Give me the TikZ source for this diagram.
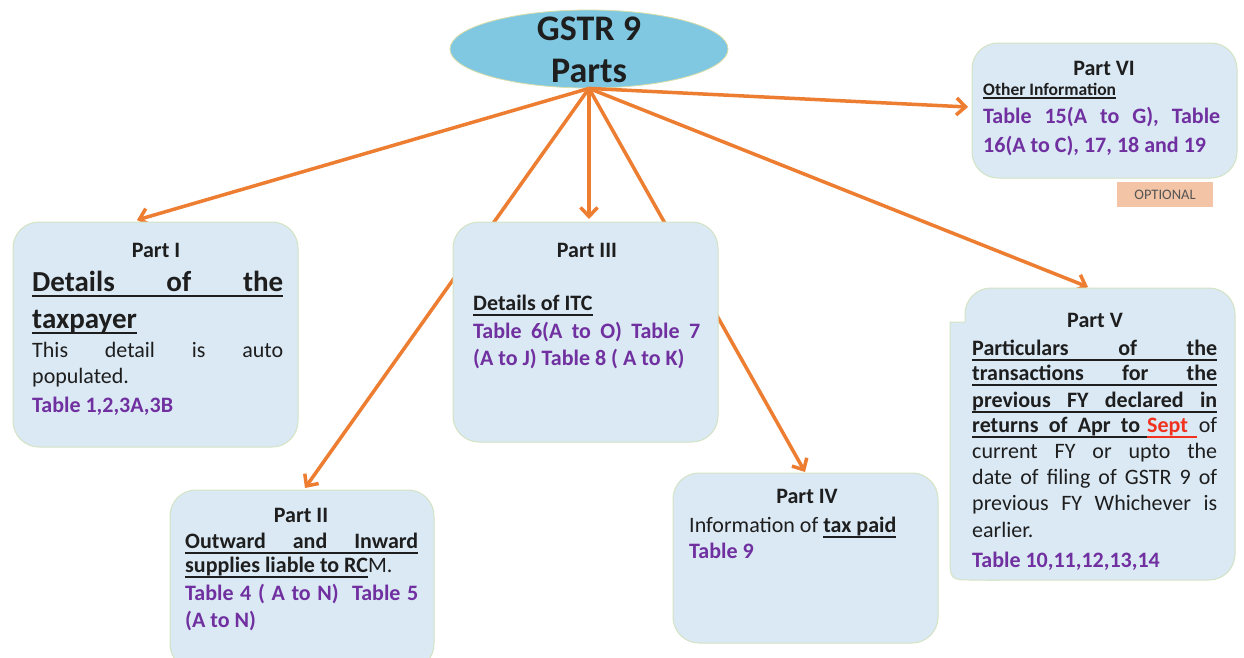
\documentclass[tikz,border=0pt]{standalone}
\usepackage{fontspec}
\setmainfont{Carlito}
\usetikzlibrary{arrows.meta,shapes.geometric}
\definecolor{arrowor}{HTML}{ED7D31}
\definecolor{boxfill}{HTML}{DAE9F4}
\definecolor{boxedge}{HTML}{D3E3C4}
\definecolor{ellfill}{HTML}{80C8E2}
\definecolor{elledge}{HTML}{D9DDA8}
\definecolor{tblpurple}{HTML}{7030A0}
\definecolor{septred}{HTML}{F0321E}
\definecolor{optfill}{HTML}{F3C4A6}
\definecolor{optgray}{HTML}{555555}
\definecolor{txt}{HTML}{1E1E1E}
\newsavebox\ulbox
\newcommand\ulx[2][5.5pt]{\sbox\ulbox{#2}\rlap{\rule[-#1]{\wd\ulbox}{1.7pt}}\usebox\ulbox}
\newcommand\sz[2]{\fontsize{#1}{#2}\selectfont}
\begin{document}
\begin{tikzpicture}[x=1pt,y=-1pt,
  box/.style={draw=boxedge, line width=1pt, fill=boxfill, rounded corners=26pt, inner sep=0pt},
  arr/.style={draw=arrowor, line width=3.5pt, -{Straight Barb[length=9pt,width=17pt]}},
  ln/.style={anchor=base west, inner sep=0pt, text=txt, font=\sz{22}{26}},
  lnc/.style={anchor=base, inner sep=0pt, text=txt, font=\sz{22}{26}\bfseries},
  tbl/.style={anchor=base west, inner sep=0pt, text=tblpurple, font=\sz{22}{26}\bfseries}]
\useasboundingbox (0,0) rectangle (1244,657);
\fill[white] (0,0) rectangle (1244,657);

% central ellipse
\node[ellipse, fill=ellfill, draw=elledge, line width=0.8pt, minimum width=278pt, minimum height=78pt, inner sep=0pt] (g) at (589,49) {};
\node[lnc, font=\sz{36}{42}\bfseries] (g1) at (589,40) {GSTR 9};
\node[lnc, font=\sz{36}{42}\bfseries] (g2) at (589,82) {Parts};

% arrow end points
\coordinate (a1) at (137,220);
\coordinate (a2) at (305,488);
\coordinate (a3) at (589,219);
\coordinate (a4) at (805,472);
\coordinate (a5) at (1088,287);
\coordinate (a6) at (968,107);

\draw[arr] (g.south) -- (a1);
\draw[arr] (g.south) -- (a2);
\draw[arr] (g.south) -- (a3);
\draw[arr] (g.south) -- (a4);
\draw[arr] (g.south) -- (a5);
\draw[arr] (g.south) -- (a6);

% Part I
\node[box, minimum width=285pt, minimum height=225pt] (p1) at (155.5,334.5) {};
\node[lnc] (p1h) at (156,257) {Part I};
\node[ln, font=\sz{29}{36}\bfseries] (p1a) at (32,291) {\ulx{\makebox[251pt][s]{Details of the}}};
\node[ln, font=\sz{29}{36}\bfseries] (p1b) at (32,328) {\ulx{taxpayer}};
\node[ln] (p1c) at (32,357) {\makebox[251pt][s]{This detail is auto}};
\node[ln] (p1d) at (32,383) {populated.};
\node[tbl] (p1e) at (32,412) {Table 1,2,3A,3B};

% Part II
\node[box, minimum width=264pt, minimum height=180pt] (p2) at (302,580) {};
\node[lnc] (p2h) at (301,522) {Part II};
\node[ln, font=\sz{22}{26}\bfseries] (p2a) at (185,548) {\ulx{\makebox[233pt][s]{Outward and Inward}}};
\node[ln] (p2b) at (185,572) {\ulx{\bfseries supplies liable to RC}M.};
\node[tbl] (p2c) at (185,600) {\makebox[233pt][s]{Table 4 ( A to N)\ \ Table 5}};
\node[tbl] (p2d) at (185,627) {(A to N)};

% Part III
\node[box, minimum width=265pt, minimum height=220pt] (p3) at (585.5,332) {};
\node[lnc] (p3h) at (587,257) {Part III};
\node[ln, font=\sz{22}{26}\bfseries] (p3a) at (473,310) {\ulx{Details of ITC}};
\node[tbl] (p3b) at (473,338) {\makebox[227pt][s]{Table 6(A to O) Table 7}};
\node[tbl] (p3c) at (473,365) {(A to J) Table 8 ( A to K)};

% Part IV
\node[box, minimum width=265pt, minimum height=170pt] (p4) at (805.5,558) {};
\node[lnc] (p4h) at (807,503) {Part IV};
\node[ln] (p4a) at (689,532) {Information of \ulx{\bfseries tax paid}};
\node[tbl] (p4b) at (689,558) {Table 9};

% Part V
\node[box, minimum width=270pt, minimum height=292pt] (p5) at (1100,434) {};
\fill[boxfill] (1000,322) -- (950,322) -- (950,556) .. controls (950,580) .. (974,580) -- (1000,580) -- cycle;
\draw[boxedge, line width=1pt] (965,322) -- (950,322) -- (950,556) .. controls (950,580) .. (974,580) -- (1000,580);
\node[lnc] (p5h) at (1095,327) {Part V};
\node[ln, font=\sz{22}{26}\bfseries] (p5a) at (972,355) {\ulx{\makebox[245pt][s]{Particulars of the}}};
\node[ln, font=\sz{22}{26}\bfseries] (p5b) at (972,380) {\ulx{\makebox[245pt][s]{transactions for the}}};
\node[ln, font=\sz{22}{26}\bfseries] (p5c) at (972,407) {\ulx{\makebox[245pt][s]{previous FY declared in}}};
\node[ln, font=\sz{22}{26}\bfseries] (p5d) at (972,432) {\hbox to 245pt{\ulx{\makebox[168pt][s]{returns of Apr to}\hspace{7pt}}\textcolor{septred}{\ulx{Sept\hspace{9pt}}}\hfill\mdseries of}};
\node[ln] (p5e) at (972,458) {\makebox[245pt][s]{current FY or upto the}};
\node[ln] (p5f) at (972,484) {\makebox[245pt][s]{date of filing of GSTR 9 of}};
\node[ln] (p5g) at (972,510) {\makebox[245pt][s]{previous FY Whichever is}};
\node[ln] (p5i) at (972,537) {earlier.};
\node[tbl] (p5j) at (972,567) {Table 10,11,12,13,14};

% Part VI
\node[box, minimum width=265pt, minimum height=135pt] (p6) at (1104.5,110.5) {};
\node[lnc] (p6h) at (1104,75) {Part VI};
\node[ln, font=\sz{17.5}{20}\bfseries] (p6a) at (983,95) {\ulx[3.5pt]{Other Information}};
\node[tbl] (p6b) at (983,123) {\makebox[237pt][s]{Table 15(A to G), Table}};
\node[tbl] (p6c) at (983,152) {16(A to C), 17, 18 and 19};
\node[fill=optfill, minimum width=96pt, minimum height=25pt, inner sep=0pt, text=optgray, font=\sz{14.5}{16}] (opt) at (1165,194.5) {OPTIONAL};
\end{tikzpicture}
\end{document}
